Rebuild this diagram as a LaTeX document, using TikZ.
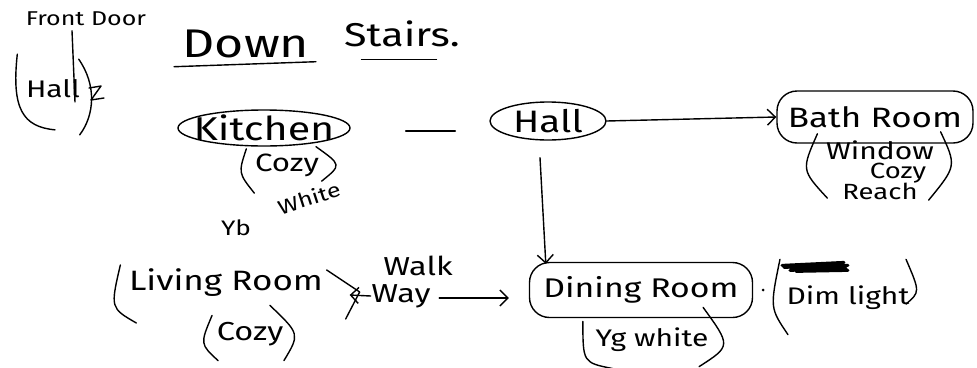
\documentclass[tikz,border=0pt]{standalone}
\usepackage{fontspec}
\setmainfont[FakeStretch=1.25]{Fira Sans}
\usetikzlibrary{arrows.meta,calc,shapes.geometric}
\newcommand{\fsz}[1]{\fontsize{#1}{#1}\selectfont}
\begin{document}
\begin{tikzpicture}[x=1pt,y=-1pt,
  line width=1.4pt, line cap=round, line join=round,
  lbl/.style={inner sep=0pt},
  ring/.style={ellipse, draw, inner sep=0pt},
  pill/.style={rectangle, draw, rounded corners=20pt, inner sep=0pt},
  barb/.style={-{Straight Barb[length=8pt,width=16pt,line width=1.4pt]}}]
\useasboundingbox (0,0) rectangle (977,367);

% ---- title and front entrance ----
\node[lbl, font=\fsz{20}] (front) at (86,19) {Front Door};
\node[lbl, font=\fsz{40}] (down) at (246,44) {Down};
\node[lbl, font=\fsz{33}] (stairs) at (402,34) {Stairs.};
\draw ($(down.south west)+(-8,8)$) -- ($(down.south east)+(6,3)$);
\draw ($(stairs.south west)+(18,12)$) -- ($(stairs.south east)+(-24,12)$);

\node[lbl, font=\fsz{24}] (hallA) at (53,89) {Hall};
\coordinate (hallAin) at (75,102);
\draw ($(front.south)+(-14,4)$) -- (hallAin);
\draw ($(hallA.north west)+(-8,-25)$) .. controls ($(hallA.west)+(-14,20)$) and ($(hallA.south)+(-30,28)$) .. ($(hallA.south)+(2,31)$);
\draw ($(hallA.north east)+(-2,-20)$) .. controls ($(hallA.east)+(16,-4)$) and ($(hallA.east)+(14,26)$) .. ($(hallA.south east)+(-1,36)$);
\draw (89,88) -- (101,86) -- (91,100) -- (104,98);

% ---- upper row ----
\node[ring, minimum width=172pt, minimum height=36pt] (kit) at (264,128) {};
\node[lbl, font=\fsz{33}] (kitT) at (kit) {Kitchen};
\node[lbl, font=\fsz{25}] (kitC) at (287,165) {Cozy};
\draw ($(kitC.north west)+(-8,-4)$) .. controls ($(kitC.west)+(-16,8)$) .. ($(kitC.south west)+(0,16)$);
\draw ($(kit.south)+(52,0)$) .. controls ($(kitC.east)+(22,0)$) .. ($(kitC.south east)+(2,4)$);
\node[lbl, font=\fsz{20}, rotate=18] (kitW) at (309,198) {White};
\node[lbl, font=\fsz{21}] (kitY) at (236,228) {Yb};

\node[ring, minimum width=116pt, minimum height=38pt] (hall) at (548,121) {};
\node[lbl, font=\fsz{31}] (hallT) at (hall) {Hall};
\draw ($(kit.east)+(55,3)$) -- ($(hall.west)+(-34,10)$);

\node[pill, minimum width=196pt, minimum height=52pt] (bath) at (875,117) {};
\node[lbl, font=\fsz{28}] (bathT) at (bath) {Bath Room};
\draw[barb] (hall.east) -- (bath.west);

\node[lbl, font=\fsz{22}, align=center] (bathN) at (880,170)
  {\fsz{24}Window\\[-3pt]\hspace*{36pt}Cozy\\[-1pt]Reach};
\draw ($(bathN.north west)+(-8,-6)$) .. controls ($(bathN.west)+(-24,0)$) .. ($(bathN.south west)+(2,-2)$);
\draw ($(bathN.north east)+(6,-8)$) .. controls ($(bathN.east)+(22,-4)$) .. ($(bathN.south east)+(-6,0)$);

% ---- lower row ----
\node[lbl, font=\fsz{28}] (liv) at (226,283) {Living Room};
\draw ($(liv.west)+(-8,-18)$) .. controls ($(liv.west)+(-18,25)$) .. ($(liv.west)+(8,40)$);
\draw ($(liv.east)+(3,-13)$) -- ($(liv.east)+(36,9)$) -- ($(liv.east)+(22,36)$);
\node[lbl, font=\fsz{26}] (livC) at (250,334) {Cozy};
\draw ($(livC.north west)+(-4,-6)$) .. controls ($(livC.west)+(-16,10)$) .. ($(livC.south west)+(2,14)$);
\draw ($(livC.north east)+(-14,-16)$) .. controls ($(livC.east)+(16,0)$) .. ($(livC.south east)+(0,14)$);

\node[lbl, font=\fsz{26}] (walk) at (418,266) {Walk};
\node[lbl, font=\fsz{26}] (way) at (401,296) {Way};

\node[pill, minimum width=223pt, minimum height=55pt] (dine) at (641,290) {};
\node[lbl, font=\fsz{27}] (dineT) at (dine) {Dining Room};
\draw[barb] (way.west) -- ($(liv.east)+(26,12)$);
\draw[barb] ($(way.east)+(8,2)$) -- ($(dine.west)+(-20,8)$);
\draw[barb] ($(hall.south)+(-8,17)$) -- ($(dine.north west)+(17,2)$);

\node[lbl, font=\fsz{24}] (dineN) at (652,340) {Yg white};
\draw ($(dineN.north west)+(-12,-6)$) .. controls ($(dineN.south west)+(-12,10)$) .. ($(dineN.south west)+(18,16)$);
\draw ($(dineN.north east)+(-6,-20)$) .. controls ($(dineN.east)+(22,6)$) .. ($(dineN.south east)+(-10,14)$);

\fill (763,290) circle (1.5pt);

\node[lbl, font=\fsz{24}] (dim) at (848,298) {Dim light};
\draw[line width=3pt] ($(dim.north west)+(-4,-20)$) -- ++(62,-3) -- ++(-60,5) -- ++(64,-2)
  -- ++(-58,5) -- ++(56,-2) -- ++(-50,3) -- ++(52,-1);
\draw ($(dim.north west)+(-6,-26)$) .. controls ($(dim.west)+(-16,10)$) .. ($(dim.south west)+(2,24)$);
\draw ($(dim.north east)+(-4,-26)$) .. controls ($(dim.east)+(10,-6)$) .. ($(dim.east)+(-4,6)$);
\end{tikzpicture}
\end{document}
